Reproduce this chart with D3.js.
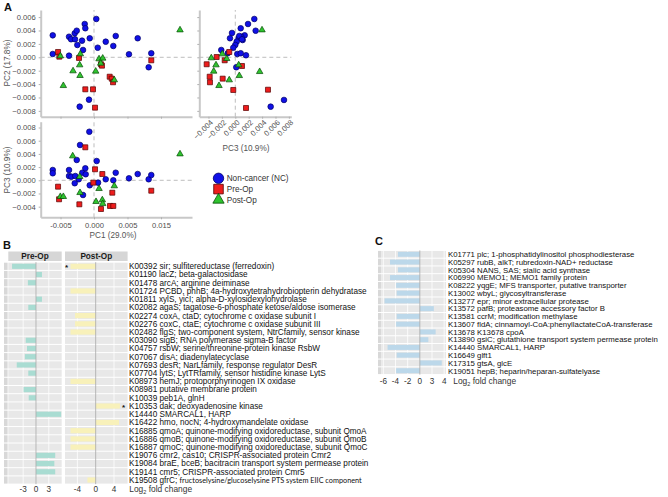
<!DOCTYPE html>
<html>
<head>
<meta charset="utf-8">
<script src="https://cdn.jsdelivr.net/npm/d3@7"></script>
<style>
  body { margin: 0; background: #fff; }
  svg { display: block; }
  text { font-family: "Liberation Sans", Arial, sans-serif; }
</style>
</head>
<body>
<svg id="chart" width="668" height="497"></svg>
<script>
// ---- panel A: PCA scores, one array per group and projection ----
const pc12NC = [[-0.00616,0.00328],[-0.00616,0.00049],[-0.00373,0.00307],[-0.00343,0.00269],[-0.00288,0.00358],
  [-0.00258,0.00397],[-0.00284,0.00269],[-0.00179,0.00248],[-0.00249,0.00184],[-0.00164,0.00109],[-0.00373,0.00024],
  [-0.00139,0.00497],[-0.00130,0.00433],[-0.00064,0.00284],[0.00034,0.00572],[0.00055,0.00143],[0.00175,0.00233],
  [0.00324,0.00318],[0.00288,0.00169],[0.00522,0.00045],[0.00652,0.00284],[0.00855,0.00060],[0.00816,-0.00149],
  [-0.00214,-0.00737],[-0.00075,-0.00633]];
const pc12Pre = [[-0.00537,0.00079],[-0.00518,0.00009],[-0.00224,-0.00010],[-0.00130,-0.00478],[-0.00015,-0.00478],
  [0.00015,-0.00752],[0.00104,-0.00104],[0.00119,-0.00125],[0.00234,-0.00290],[0.00264,-0.00319],[0.00284,-0.00373],
  [0.00855,-0.00045]];
const pc12Post = [[-0.00503,0.00019],[-0.00204,0.00049],[-0.00214,-0.00115],[-0.00313,-0.00204],[-0.00209,-0.00274],
  [-0.00458,-0.00424],[0.00075,-0.00025],[0.00130,-0.00015],[0.00025,-0.00209],[0.00303,-0.00339],[0.01284,0.00407],
  [0.00100,-0.00090]];

const pc32NC = [[0.00284,0.00572],[0.00190,0.00497],[0.00304,0.00397],[0.00081,0.00433],[-0.00049,0.00363],
  [-0.00079,0.00284],[0.00140,0.00328],[0.00090,0.00307],[0.00051,0.00284],[0.00110,0.00258],[0.00021,0.00233],
  [0.00000,0.00184],[-0.00030,0.00143],[0.00030,0.00049],[0.00081,0.00060],[0.00160,0.00030],[0.00015,-0.00149],
  [0.00727,-0.00637],[0.00528,-0.00737],[-0.00209,0.00109],[-0.00113,0.00060],[0.00060,0.00318],[0.00100,0.00269]];
const pc32Pre = [[-0.00090,0.00079],[-0.00158,-0.00045],[0.00100,-0.00130],[-0.00188,-0.00319],[-0.00030,-0.00488],
  [0.00488,-0.00484],[0.00160,-0.00757],[-0.00427,-0.00104],[-0.00382,-0.00290],[-0.00378,-0.00373],[-0.00278,0.00004]];
const pc32Post = [[0.00399,0.00407],[0.00051,-0.00115],[0.00060,-0.00275],[0.00364,-0.00215],[-0.00090,-0.00339],
  [-0.00128,-0.00021],[-0.00194,0.00049],[-0.00358,-0.00010],[-0.00288,-0.00115],[-0.00322,-0.00209],[-0.00243,-0.00424]];

const pc13NC = [[-0.00070,0.00736],[-0.00209,0.00535],[-0.00258,0.00308],[-0.00616,0.00156],[-0.00616,0.00106],
  [-0.00373,0.00156],[-0.00373,0.00065],[-0.00339,0.00055],[-0.00279,0.00065],[-0.00228,0.00015],[-0.00175,0.00115],
  [-0.00130,0.00182],[-0.00124,0.00091],[-0.00288,-0.00045],[-0.00164,-0.00223],[-0.00064,-0.00076],[0.00040,0.00292],
  [0.00060,-0.00036],[0.00175,0.00015],[0.00288,0.00000],[0.00324,0.00115],[0.00522,0.00030],[0.00652,0.00095],
  [0.00816,0.00015],[0.00855,0.00080]];
const pc13Pre = [[-0.00130,0.00500],[-0.00537,-0.00097],[-0.00522,-0.00288],[-0.00219,-0.00364],[0.00015,0.00167],
  [-0.00010,-0.00036],[0.00124,0.00095],[0.00104,-0.00435],[0.00273,-0.00188],[0.00239,-0.00389],[0.00288,-0.00389],
  [0.00855,-0.00158]];
const pc13Post = [[-0.00318,0.00368],[-0.00213,0.00055],[-0.00503,-0.00248],[-0.00458,-0.00248],[-0.00209,-0.00188],
  [0.00075,-0.00127],[0.00030,-0.00324],[0.00124,-0.00298],[0.00130,-0.00355],[0.00303,-0.00086],[0.01284,0.00398]];

const groupNames = ["Non-cancer (NC)", "Pre-Op", "Post-Op"];
const pc1Ticks = [-0.005, 0, 0.005, 0.010];
const pc1TickLabels = ["-0.005", "0.000", "0.005", "0.015"];
const pc2Ticks = [0.006, 0.004, 0.002, 0, -0.002, -0.004, -0.006, -0.008];
const pc3Ticks = [-0.004, -0.002, 0, 0.002, 0.004, 0.006, 0.008];
const pc3yTicks = [0.008, 0.006, 0.004, 0.002, 0, -0.002, -0.004];

// ---- panel B: differential KOs ----
const bGenes = [
  "K00392 sir; sulfitereductase (ferredoxin)",
  "K01190 lacZ; beta-galactosidase",
  "K01478 arcA; arginine deiminase",
  "K01724 PCBD, phhB; 4a-hydroxytetrahydrobiopterin dehydratase",
  "K01811 xylS, yicI; alpha-D-xylosidexylohydrolase",
  "K02082 agaS; tagatose-6-phosphate ketose/aldose isomerase",
  "K02274 coxA, ctaD; cytochrome c oxidase subunit I",
  "K02276 coxC, ctaE; cytochrome c oxidase subunit III",
  "K02482 flgS; two-component system, NtrCfamily, sensor kinase",
  "K03090 sigB; RNA polymerase sigma-B factor",
  "K04757 rsbW; serine/threonine-protein kinase RsbW",
  "K07067 disA; diadenylatecyclase",
  "K07693 desR; NarLfamily, response regulator DesR",
  "K07704 lytS; LytTRfamily, sensor histidine kinase LytS",
  "K08973 hemJ; protoporphyrinogen IX oxidase",
  "K08981 putative membrane protein",
  "K10039 peb1A, glnH",
  "K10353 dak; deoxyadenosine kinase",
  "K14440 SMARCAL1, HARP",
  "K16422 hmo, nocN; 4-hydroxymandelate oxidase",
  "K16885 qmoA; quinone-modifying oxidoreductase, subunit QmoA",
  "K16886 qmoB; quinone-modifying oxidoreductase, subunit QmoB",
  "K16887 qmoC; quinone-modifying oxidoreductase, subunit QmoC",
  "K19076 cmr2, cas10; CRISPR-associated protein Cmr2",
  "K19084 braE, bceB; bacitracin transport system permease protein",
  "K19141 cmr5; CRISPR-associated protein Cmr5",
  "K19508 gfrC; |fructoselysine/glucoselysine PTS system EIIC component"
];
const bPre = [-5.6, 1.4, -1.9, null, 1.4, -1.8, null, null, null, -2.4, -2.1, -2.6, -4.5, -1.8,
  null, -2.9, -1.7, null, 5.9, null, null, null, null, 4.5, 4.3, 4.5, null];
const bPost = [-5.5, null, null, -5.5, null, null, -4.5, -4.5, -5.5, null, null, null, null, null,
  -5.5, null, null, 5.3, null, 5.1, -5.5, -5.5, -5.5, null, null, null, -1.8];
const bPostStar = [0, 17];
const preTicks = [-3, 0, 3];
const postTicks = [-4, 0, 4];

// ---- panel C ----
const cGenes = [
  "K01771 plc; 1-phosphatidylinositol phosphodiesterase",
  "K05297 rubB, alkT; rubredoxin-NAD+ reductase",
  "K05304 NANS, SAS; sialic acid synthase",
  "K06990 MEMO1; MEMO1 family protein",
  "K08222 yqgE; MFS transporter, putative transporter",
  "K13002 wbyL; glycosyltransferase",
  "K13277 epr; minor extracellular protease",
  "K13572 pafB; proteasome accessory factor B",
  "K13581 ccrM; modification methylase",
  "K13607 fldA; cinnamoyl-CoA:phenyllactateCoA-transferase",
  "K13678 K13678 cpoA",
  "K13890 gsiC; glutathione transport system permease protein",
  "K14440 SMARCAL1, HARP",
  "K16649 glft1",
  "K17315 gtsA, glcE",
  "K19051 hepB; heparin/heparan-sulfatelyase"
];
const cValues = [-3.6, -4.9, -3.6, -4.9, -3.9, -3.8, -5.8, 2.3, -3.8, -3.9, 2.6, 1.4, -5.3, -3.8, 3.6, -3.9];
const cTicks = [-6, -4, -2, 0, 2, 4];
const cTickLabels = ["-6", "-4", "-2", "0", "3", "4"];

// ---------------------------------------------------------------
const svg = d3.select("#chart");
const fill = ["#1010e6", "#ee1c1c", "#2fc42f"];
const edge = ["#000066", "#550000", "#064a06"];
const symType = [d3.symbolCircle, d3.symbolSquare, d3.symbolTriangle];
const symSize = [25, 25, 18];
const tickCol = "#4d4d4d";

function panelLetter(t, x, y) {
  svg.append("text").attr("x", x).attr("y", y).text(t)
    .attr("font-size", 11).attr("font-weight", "bold").attr("fill", "#111");
}

function styleAxis(g) {
  g.select(".domain").attr("stroke", "#c8c8c8").attr("stroke-width", 2);
  g.selectAll(".tick line").attr("stroke", "#b0b0b0");
  g.selectAll(".tick text").attr("fill", tickCol).attr("font-size", 7.6)
    .attr("font-family", '"Liberation Sans", Arial, sans-serif');
}

function scatter(sets, x, y) {
  const g = svg.append("g");
  const [xa, xb] = x.range(), [ya, yb] = y.range();
  g.append("line").attr("x1", x(0)).attr("x2", x(0)).attr("y1", ya).attr("y2", yb)
    .attr("stroke", "#bdbdbd").attr("stroke-dasharray", "4,3");
  g.append("line").attr("x1", xa).attr("x2", xb).attr("y1", y(0)).attr("y2", y(0))
    .attr("stroke", "#bdbdbd").attr("stroke-dasharray", "4,3");
  sets.forEach((pts, k) => {
    g.selectAll(null).data(pts).join("path")
      .attr("d", d3.symbol(symType[k], symSize[k]))
      .attr("transform", d => `translate(${x(d[0])},${y(d[1])})`)
      .attr("fill", fill[k]).attr("stroke", edge[k]).attr("stroke-width", 0.7);
  });
}

// panel A scales
const xPC1 = d3.scaleLinear().domain([-0.00796, 0.01463]).range([40.7, 192]);
const yPC2 = d3.scaleLinear().domain([-0.00887, 0.00706]).range([116.7, 10]);
const xPC3 = d3.scaleLinear().domain([-0.00537, 0.00836]).range([199.3, 291.3]);
const yPC3 = d3.scaleLinear().domain([-0.00561, 0.00888]).range([217.3, 121.7]);
const fmt = d3.format(".3f");

panelLetter("A", 4, 11);

// top-left PC1 vs PC2
svg.append("g").attr("transform", "translate(40.7,0)")
  .call(d3.axisLeft(yPC2).tickValues(pc2Ticks).tickFormat(fmt).tickSize(2).tickSizeOuter(0)).call(styleAxis);
svg.append("g").attr("transform", "translate(0,116.7)")
  .call(d3.axisBottom(xPC1).tickValues(pc1Ticks).tickFormat("").tickSize(2).tickSizeOuter(0)).call(styleAxis);
scatter([pc12NC, pc12Pre, pc12Post], xPC1, yPC2);

// top-right PC3 vs PC2
svg.append("g").attr("transform", "translate(199.3,0)")
  .call(d3.axisLeft(yPC2).tickValues(pc2Ticks).tickFormat("").tickSize(2).tickSizeOuter(0)).call(styleAxis);
const axTR = svg.append("g").attr("transform", "translate(0,116.7)")
  .call(d3.axisBottom(xPC3).tickValues(pc3Ticks).tickFormat(fmt).tickSize(2).tickSizeOuter(0)).call(styleAxis);
axTR.selectAll(".tick text").attr("text-anchor", "end").attr("dy", null).attr("y", null)
  .attr("transform", "translate(3,5) rotate(-45)").attr("dominant-baseline", "middle");
scatter([pc32NC, pc32Pre, pc32Post], xPC3, yPC2);

// bottom-left PC1 vs PC3
svg.append("g").attr("transform", "translate(40.7,0)")
  .call(d3.axisLeft(yPC3).tickValues(pc3yTicks).tickFormat(fmt).tickSize(2).tickSizeOuter(0)).call(styleAxis);
svg.append("g").attr("transform", "translate(0,217.3)")
  .call(d3.axisBottom(xPC1).tickValues(pc1Ticks).tickFormat((d, i) => pc1TickLabels[i]).tickSize(2).tickSizeOuter(0))
  .call(styleAxis);
scatter([pc13NC, pc13Pre, pc13Post], xPC1, yPC3);

// axis titles
const axTitle = (t, x, y, rot) => svg.append("text").text(t)
  .attr("transform", `translate(${x},${y})` + (rot ? " rotate(-90)" : ""))
  .attr("text-anchor", "middle").attr("font-size", 8.2).attr("fill", "#555");
axTitle("PC2 (17.8%)", 10, 63, true);
axTitle("PC3 (10.9%)", 10, 170, true);
axTitle("PC1 (29.0%)", 113, 238, false);
axTitle("PC3 (10.9%)", 246, 151, false);

// legend
const leg = svg.append("g");
groupNames.forEach((name, k) => {
  const cy = 178.3 + k * 10.8;
  leg.append("path").attr("d", d3.symbol(symType[k], [85, 92, 55][k]))
    .attr("transform", `translate(218.5,${cy})`)
    .attr("fill", fill[k]).attr("stroke", edge[k]).attr("stroke-width", 0.8);
  leg.append("text").attr("x", 226.7).attr("y", cy + 3).text(name)
    .attr("font-size", 8.2).attr("fill", "#333");
});

// ---- panel B ----
panelLetter("B", 3, 249);
const yB = d3.scaleLinear().domain([0, bGenes.length - 1]).range([266.3, 480]);
const stepB = yB(1) - yB(0);
const xPre = d3.scaleLinear().domain([-6.48, 6.02]).range([8.3, 61.7]);
const xPost = d3.scaleLinear().domain([-6.7, 6.97]).range([65, 127.6]);
const topB = yB(0) - stepB / 2, botB = yB(bGenes.length - 1) + stepB / 2;

function facet(x, vals, ticks, col, header) {
  const [xa, xb] = x.range();
  const g = svg.append("g");
  g.append("rect").attr("x", xa).attr("y", 251.5).attr("width", xb - xa).attr("height", 9.5).attr("fill", "#d6d6d6");
  g.append("text").attr("x", (xa + xb) / 2).attr("y", 259).attr("text-anchor", "middle")
    .attr("font-size", 8.2).attr("font-weight", "bold").attr("fill", "#1a1a1a").text(header);
  g.selectAll(null).data(bGenes).join("rect")
    .attr("x", xa).attr("width", xb - xa)
    .attr("y", (d, i) => yB(i) - stepB / 2 + 0.5).attr("height", stepB - 1)
    .attr("fill", "#e8e8e8");
  g.selectAll(null).data(ticks.filter(t => t !== 0)).join("line")
    .attr("x1", d => x(d)).attr("x2", d => x(d)).attr("y1", topB).attr("y2", botB)
    .attr("stroke", "#fff").attr("stroke-width", 0.8);
  g.selectAll(null).data(vals.map((v, i) => [v, i]).filter(d => d[0] !== null)).join("rect")
    .attr("x", d => x(Math.min(0, d[0]))).attr("width", d => Math.abs(x(d[0]) - x(0)))
    .attr("y", d => yB(d[1]) - 2.6).attr("height", 5.2).attr("fill", col);
  g.append("line").attr("x1", x(0)).attr("x2", x(0)).attr("y1", topB).attr("y2", botB)
    .attr("stroke", "#a8a8a8").attr("stroke-width", 0.8);
  g.selectAll(null).data(ticks).join("text")
    .attr("x", d => x(d)).attr("y", 492.3).attr("text-anchor", "middle")
    .attr("font-size", 8.2).attr("fill", "#333").text(d => d);
  return g;
}

// narrow darker strip at the left edge of panel B rows
svg.append("g").selectAll(null).data(bGenes).join("rect")
  .attr("x", 4).attr("width", 3.6)
  .attr("y", (d, i) => yB(i) - stepB / 2 + 0.5).attr("height", stepB - 1).attr("fill", "#d8d8d8");

facet(xPre, bPre, preTicks, "#a9dcd2", "Pre-Op");
const gPost = facet(xPost, bPost, postTicks, "#f8f1ba", "Post-Op");
gPost.selectAll(null).data(bPostStar).join("text")
  .attr("x", i => bPost[i] < 0 ? xPost(bPost[i]) - 4 : xPost(bPost[i]) + 3.5)
  .attr("y", i => yB(i) + 3.6).attr("text-anchor", "middle")
  .attr("font-size", 8).attr("font-weight", "bold").attr("fill", "#111").text("*");

const labB = svg.append("g").selectAll(null).data(bGenes).join("text")
  .attr("x", 129).attr("y", (d, i) => yB(i) + 2.9)
  .attr("font-size", 8.2).attr("fill", "#111");
labB.append("tspan").text(d => d.split("|")[0]);
labB.filter(d => d.includes("|")).append("tspan")
  .attr("font-family", "Lato, 'Open Sans', sans-serif").attr("font-size", 7.3)
  .text(d => d.split("|")[1]);

function log2Label(x, y) {
  const t = svg.append("text").attr("x", x).attr("y", y).attr("font-size", 8.4).attr("fill", "#333");
  t.append("tspan").text("Log");
  t.append("tspan").text("2").attr("font-size", 5.6).attr("dy", 2);
  t.append("tspan").text(" fold change").attr("dy", -2);
}
log2Label(129.3, 492.3);

// ---- panel C ----
panelLetter("C", 375, 245);
const yC = d3.scaleLinear().domain([0, cGenes.length - 1]).range([254.3, 370.7]);
const stepC = yC(1) - yC(0);
const xC = d3.scaleLinear().domain([-6.35, 4.3]).range([381.2, 446]);
const topC = yC(0) - stepC / 2, botC = yC(cGenes.length - 1) + stepC / 2;
const gC = svg.append("g");
gC.selectAll(null).data(cGenes).join("rect")
  .attr("x", 378).attr("width", 3.2)
  .attr("y", (d, i) => yC(i) - stepC / 2 + 0.5).attr("height", stepC - 1).attr("fill", "#d8d8d8");
gC.selectAll(null).data(cGenes).join("rect")
  .attr("x", xC.range()[0]).attr("width", xC.range()[1] - xC.range()[0])
  .attr("y", (d, i) => yC(i) - stepC / 2 + 0.5).attr("height", stepC - 1).attr("fill", "#e8e8e8");
gC.selectAll(null).data(cTicks.filter(t => t !== 0)).join("line")
  .attr("x1", d => xC(d)).attr("x2", d => xC(d)).attr("y1", topC).attr("y2", botC)
  .attr("stroke", "#fff").attr("stroke-width", 0.8);
gC.selectAll(null).data(cValues.map((v, i) => [v, i])).join("rect")
  .attr("x", d => xC(Math.min(0, d[0]))).attr("width", d => Math.abs(xC(d[0]) - xC(0)))
  .attr("y", d => yC(d[1]) - 2.5).attr("height", 5).attr("fill", "#bcd8ea");
gC.append("line").attr("x1", xC(0)).attr("x2", xC(0)).attr("y1", topC).attr("y2", botC)
  .attr("stroke", "#a8a8a8").attr("stroke-width", 0.8);
gC.selectAll(null).data(cTicks).join("text")
  .attr("x", d => xC(d)).attr("y", 383.6).attr("text-anchor", "middle")
  .attr("font-size", 8.2).attr("fill", "#333").text((d, i) => cTickLabels[i]);
svg.append("g").selectAll(null).data(cGenes).join("text")
  .attr("x", 448).attr("y", (d, i) => yC(i) + 2.8)
  .attr("font-size", 7.8).attr("fill", "#111").text(d => d);
log2Label(453.3, 383.6);
</script>
</body>
</html>
